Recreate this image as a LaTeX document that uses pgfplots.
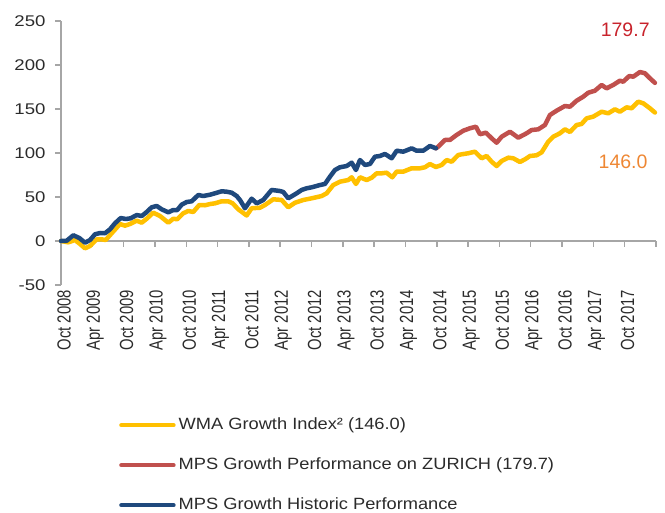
\documentclass[border=0pt]{standalone}
\usepackage{fontspec}
\setmainfont{Liberation Sans}
\newfontfamily\widefont{Liberation Sans}[FakeStretch=1.2]
\newfontfamily\legfont{Liberation Sans}[FakeStretch=1.12]
\newfontfamily\tallfont{Liberation Sans}[FakeStretch=0.78]
\usepackage{pgfplots}
\usepackage{pgfplotstable}
\pgfplotsset{compat=1.18}

\definecolor{wma}{HTML}{FFC000}
\definecolor{mpsz}{HTML}{C0504D}
\definecolor{mpsh}{HTML}{1F497D}
\definecolor{axisgray}{HTML}{A6A6A6}
\definecolor{txt}{HTML}{2B2B2B}
\definecolor{annred}{HTML}{C8232C}
\definecolor{annorange}{HTML}{EE8733}

% x = months since Oct 2008, y = index value
\pgfplotstableread{
x y
0 0
1.40 -1.5
2.68 1.1
3.64 -3.4
4.60 -8.3
5.56 -5.7
6.84 1.9
7.80 1.9
8.56 1.1
9.71 8.8
11.30 19.3
12.26 17.4
13.22 19.3
14.50 23.1
15.46 20.8
16.42 25.3
17.68 32.2
18.97 28.4
20.56 20.8
21.51 25.3
22.28 24.7
23.43 31.5
24.39 34.1
25.34 33.0
26.49 40.9
27.59 40.6
28.54 42.0
29.50 42.8
30.79 45.1
32.05 45.1
32.89 42.8
33.97 36.0
35.57 29.0
36.53 37.2
38.12 37.8
39.08 40.9
40.67 47.4
42.28 46.6
43.54 38.3
44.83 43.5
46.42 46.6
48.03 48.5
49.94 51.1
50.90 54.2
52.16 63.6
53.45 67.4
55.04 69.3
55.69 72.4
56.51 64.8
57.28 72.4
58.56 69.3
59.52 71.9
60.48 76.9
61.44 76.9
62.39 77.6
63.47 72.4
64.31 78.8
65.57 78.8
67.18 82.6
68.77 82.6
69.73 83.8
70.69 87.5
71.84 84.1
72.93 86.4
73.89 92.0
74.85 90.1
76.11 97.7
76.76 98.5
78.03 99.7
79.31 101.5
80.59 94.0
81.55 96.6
82.51 90.1
83.47 85.2
84.43 90.9
85.69 94.7
86.65 94.0
87.93 89.8
88.89 92.8
89.85 96.6
91.13 97.4
92.09 100.8
93.35 112.8
94.31 118.5
95.59 122.4
96.55 126.9
97.51 123.9
98.79 131.8
99.75 133.0
100.71 139.4
101.97 141.3
103.58 146.9
104.85 145.1
106.13 149.7
107.09 146.9
108.37 151.9
109.33 150.8
110.59 158.3
111.55 156.5
112.84 150.8
113.79 146.0
}\wmadata

\pgfplotstableread{
x y
71.84 105.3
72.28 107.2
73.56 114.8
74.52 114.8
75.80 120.5
77.07 125.3
78.35 128.1
79.50 129.9
80.27 121.3
81.42 123.1
82.51 116.7
83.47 111.7
84.43 118.5
86.02 124.2
87.61 117.4
89.21 122.4
90.17 126.1
91.44 126.9
92.72 131.8
93.68 143.2
94.96 148.1
96.55 153.4
97.51 152.6
98.79 159.4
100.06 164.0
101.02 168.5
102.30 170.8
103.58 177.3
104.54 173.5
105.80 177.3
107.09 182.2
107.72 181.0
108.87 187.5
109.64 186.7
110.92 192.0
111.88 190.6
112.84 184.9
113.79 179.7
}\zurdata

\pgfplotstableread{
x y
0 0
1.09 0.3
2.36 6.5
3.51 3.4
4.60 -1.9
5.56 1.1
6.51 7.6
7.47 9.1
8.43 8.8
9.39 13.3
10.34 20.1
11.44 26.1
12.45 25.0
13.35 25.8
14.50 29.5
15.46 28.4
16.28 32.2
17.38 38.3
18.33 39.8
19.29 36.0
20.56 32.6
21.51 35.2
22.28 35.2
23.12 41.3
24.08 44.3
25.04 45.1
26.30 52.3
27.26 51.1
28.54 52.6
29.50 54.2
30.79 56.5
31.74 56.0
32.70 54.9
33.66 51.1
34.29 46.6
35.25 37.2
36.53 48.1
37.49 42.8
38.75 46.6
40.36 58.0
41.95 56.8
42.59 55.7
43.54 48.5
45.15 54.2
46.11 58.0
47.07 59.9
48.03 61.0
49.62 63.6
50.57 64.8
51.53 73.1
52.49 80.7
53.45 83.8
54.73 85.2
55.69 89.0
56.51 80.7
57.28 92.0
58.24 86.4
59.20 87.5
60.15 95.8
61.11 96.6
62.07 98.9
63.35 94.0
64.31 102.6
65.57 101.5
67.18 105.3
68.14 102.6
69.41 102.6
70.69 108.0
71.84 105.3
}\histdata

\begin{document}
\begin{tikzpicture}
\useasboundingbox (-61pt,-228pt) rectangle (604pt,285pt);
% labels-only axis for the rotated date labels
\begin{axis}[
  scale only axis, width=595pt, height=264pt,
  xmin=0, xmax=114, ymin=-50, ymax=250,
  axis x line=bottom, axis y line=none,
  x axis line style={draw=none},
  major tick length=0pt,
  xtick={0,6,...,108},
  xticklabels={Oct 2008,Apr 2009,Oct 2009,Apr 2010,Oct 2010,Apr 2011,Oct 2011,Apr 2012,Oct 2012,Apr 2013,Oct 2013,Apr 2014,Oct 2014,Apr 2015,Oct 2015,Apr 2016,Oct 2016,Apr 2017,Oct 2017},
  xticklabel style={rotate=90, anchor=east, text=txt, font=\tallfont\fontsize{19}{21}\selectfont, inner sep=0pt, xshift=-5pt, yshift=-3pt},
]
\end{axis}
\begin{axis}[
  scale only axis, width=595pt, height=264pt,
  xmin=0, xmax=114, ymin=-50, ymax=250,
  axis y line=left, axis x line=middle,
  axis line style={-, draw=axisgray, line width=1.5pt},
  every inner x axis line/.append style={-},
  every outer y axis line/.append style={-},
  hide obscured x ticks=false, hide obscured y ticks=false,
  xtick={0,6,...,114},
  xticklabels={{}},
  ytick={-50,0,50,100,150,200,250},
  yticklabels={-50,0,50,100,150,200,250},
  tick align=outside,
  major tick length=6pt,
  tick style={draw=axisgray, line width=1.5pt},
  yticklabel style={font=\widefont\fontsize{15.5}{18}\selectfont, text=txt, xshift=-6pt},
  clip=false,
  legend style={
    at={(axis description cs:0,0)}, anchor=north west,
    xshift=58pt, yshift=-132pt,
    draw=none, fill=none, inner sep=0pt,
    font=\legfont\fontsize{16.3}{19}\selectfont,
    text=txt,
    row sep=24pt,
    nodes={inner sep=0pt, text height=12pt, text depth=4pt},
    /tikz/every odd column/.append style={column sep=3pt},
  },
  legend cell align=left,
  legend image code/.code={\draw[#1, line width=4.5pt, line cap=round] (0pt,0pt) -- (52pt,0pt);},
]
\addplot[wma, line width=4.5pt, line join=round, line cap=round] table {\wmadata};
\addlegendentry{WMA Growth Index² (146.0)}
\addplot[mpsz, line width=4.5pt, line join=round, line cap=round] table {\zurdata};
\addlegendentry{MPS Growth Performance on ZURICH (179.7)}
\addplot[mpsh, line width=4.5pt, line join=round, line cap=round] table {\histdata};
\addlegendentry{MPS Growth Historic Performance}
\node[text=annred, font=\fontsize{19.5}{22}\selectfont] at (axis cs:108.1,240.1) {179.7};
\node[text=annorange, font=\fontsize{19.5}{22}\selectfont] at (axis cs:107.7,89.8) {146.0};
\end{axis}
\end{tikzpicture}
\end{document}
